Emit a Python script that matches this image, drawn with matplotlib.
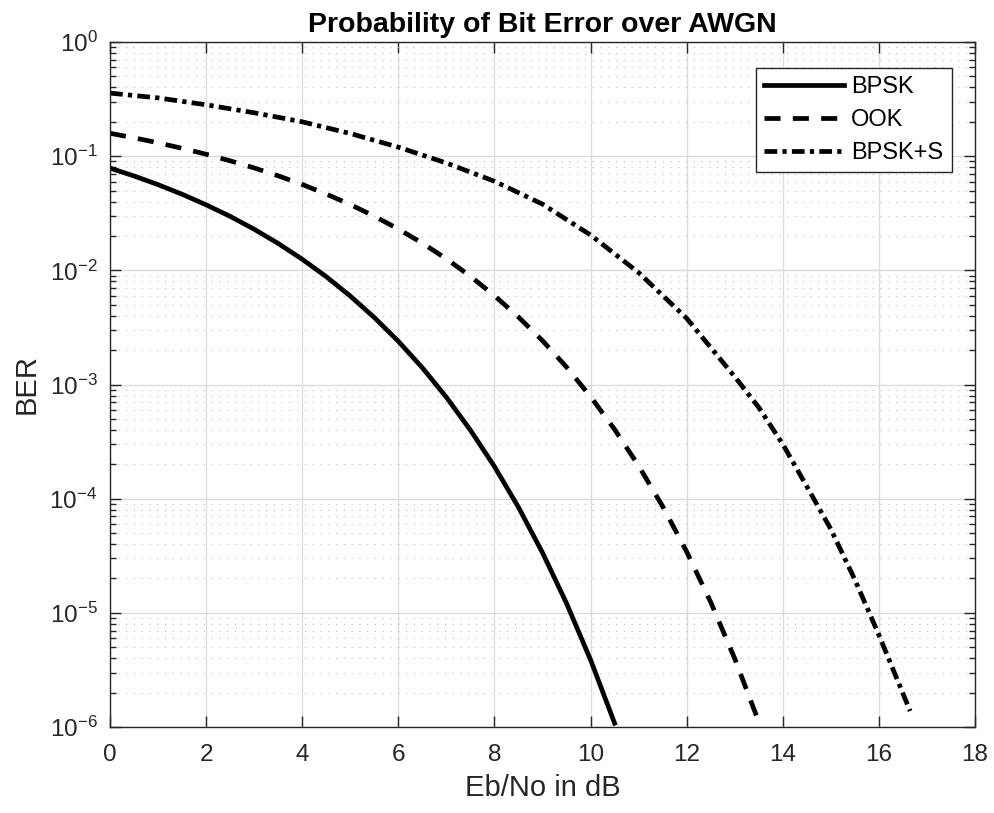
import matplotlib
matplotlib.use('Agg')
import matplotlib.pyplot as plt
from matplotlib.ticker import LogLocator, FixedLocator, NullFormatter

plt.rcParams['font.family'] = ['Liberation Sans', 'DejaVu Sans']
plt.rcParams['mathtext.fontset'] = 'custom'
plt.rcParams['mathtext.rm'] = 'Liberation Sans'
plt.rcParams['axes.unicode_minus'] = False

# Eb/No (dB) and BER
snr_bpsk = [0, 0.5, 1, 1.5, 2, 2.5, 3, 3.5, 4, 4.5, 5, 5.5, 6, 6.5, 7, 7.5,
            8, 8.5, 9, 9.5, 10, 10.5]
ber_bpsk = [0.0786, 0.0671, 0.0563, 0.0464, 0.0375, 0.0297, 0.0229, 0.0172,
            0.0125, 0.0088, 0.00595, 0.00386, 0.00239, 0.0014, 0.000773,
            0.000398, 0.000191, 8.4e-5, 3.36e-5, 1.21e-5, 3.87e-6, 1.08e-6]

snr_ook = [0, 0.5, 1, 1.5, 2, 2.5, 3, 3.5, 4, 4.5, 5, 5.5, 6, 6.5, 7, 7.5,
           8, 8.5, 9, 9.5, 10, 10.5, 11, 11.5, 12, 12.5, 13, 13.5]
ber_ook = [0.1587, 0.1448, 0.131, 0.1172, 0.104, 0.0911, 0.0789, 0.0673,
           0.0565, 0.0466, 0.0377, 0.0298, 0.0230, 0.0173, 0.0126, 0.00887,
           0.0060, 0.0039, 0.00242, 0.00142, 0.000783, 0.000404, 0.000194,
           8.56e-5, 3.43e-5, 1.24e-5, 3.97e-6, 1.11e-6]

snr_bpsks = [0, 1, 2, 3, 4, 5, 6, 7, 8, 9, 10, 11, 12, 13, 13.5, 14, 14.5,
             15, 15.5, 16, 16.65]
ber_bpsks = [0.357, 0.324, 0.282, 0.240, 0.200, 0.158, 0.120, 0.0871,
             0.0603, 0.0380, 0.0204, 0.00955, 0.00380, 0.00117, 0.00063,
             3.0e-4, 1.28e-4, 5.4e-5, 1.95e-5, 6.4e-6, 1.38e-6]

xticks = [0, 2, 4, 6, 8, 10, 12, 14, 16, 18]

fig = plt.figure(figsize=(9.95, 8.13), dpi=100)
ax = fig.add_axes([0.1106, 0.1058, 0.8693, 0.8425])

lw = 3.4
ax.semilogy(snr_bpsk, ber_bpsk, color='black', lw=lw, ls='-', label='BPSK')
ax.semilogy(snr_ook, ber_ook, color='black', lw=lw, ls=(0, (3.4, 2.6)), label='OOK')
ax.semilogy(snr_bpsks, ber_bpsks, color='black', lw=lw,
            ls=(0, (2.7, 1.1, 0.9, 1.1)), label='BPSK+S')

ax.set_xlim(0, 18)
ax.set_ylim(1e-6, 1)
ax.xaxis.set_major_locator(FixedLocator(xticks))
ax.yaxis.set_major_locator(LogLocator(base=10, numticks=10))
ax.yaxis.set_minor_locator(LogLocator(base=10, subs=range(2, 10), numticks=20))
ax.yaxis.set_minor_formatter(NullFormatter())

edge = '#262626'
for s in ax.spines.values():
    s.set_color(edge)
    s.set_linewidth(1.0)
ax.tick_params(which='both', direction='in', top=True, right=True,
               colors=edge)
ax.tick_params(which='major', length=8, width=1.0)
ax.tick_params(which='minor', length=4, width=1.0)
ax.tick_params(axis='x', labelsize=17.5, pad=12)
ax.tick_params(axis='y', labelsize=17.5, pad=9)

ax.grid(which='major', color='#dcdcdc', lw=1.0, ls='-')
ax.grid(which='minor', axis='y', color='#bdbdbd', lw=0.8, ls=(0, (1, 6)))
ax.set_axisbelow(True)

ax.set_title('Probability of Bit Error over AWGN', fontsize=20.5,
             fontweight='bold', pad=7)
ax.set_xlabel('Eb/No in dB', fontsize=21, color=edge, labelpad=6)
ax.set_ylabel('BER', fontsize=21, color=edge, labelpad=6)

leg = ax.legend(loc='upper right', bbox_to_anchor=(0.973, 0.962),
                fontsize=17, frameon=True, fancybox=False, handlelength=3.4,
                borderpad=0.35, labelspacing=0.46, handletextpad=0.3,
                borderaxespad=0)
leg.get_frame().set_edgecolor(edge)
leg.get_frame().set_linewidth(1.0)
leg.get_frame().set_alpha(1)

fig.savefig('out.png', dpi=100)
